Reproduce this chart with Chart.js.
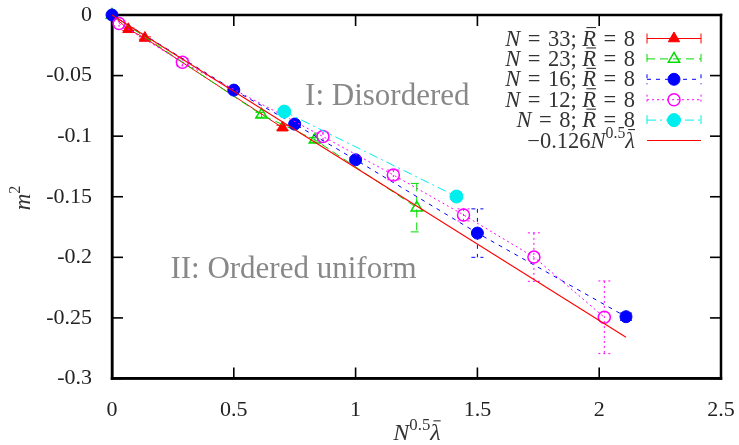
<!DOCTYPE html>
<html><head><meta charset="utf-8">
<script src="https://cdn.jsdelivr.net/npm/chart.js@4.4.1/dist/chart.umd.min.js"></script>
<style>html,body{margin:0;padding:0;background:#fff;overflow:hidden}</style>
</head><body>
<canvas id="c" width="739" height="445"></canvas>
<script>
// ---- data ----
const xTickLabels = ['0','0.5','1','1.5','2','2.5'];
const yTickLabels = ['0','-0.05','-0.1','-0.15','-0.2','-0.25','-0.3'];
const seriesN = [33, 23, 16, 12, 8];
const rBar = 8;

const n33X = [0, 0.067, 0.135, 0.70];
const n33Y = [0, -0.0118, -0.019, -0.093];
const n33Err = [0, 0.001, 0.001, 0.002];

const n23X = [0, 0.614, 0.833, 1.251];
const n23Y = [0, -0.0824, -0.103, -0.159];
const n23Err = [0, 0.002, 0.002, 0.02];

const n16X = [0, 0.5, 0.75, 1.0, 1.5, 2.11];
const n16Y = [0, -0.062, -0.090, -0.1195, -0.18, -0.249];
const n16Err = [0, 0.001, 0.001, 0.002, 0.02, 0.003];

const n12X = [0.029, 0.289, 0.866, 1.155, 1.443, 1.732, 2.021];
const n12Y = [-0.007, -0.039, -0.1003, -0.132, -0.165, -0.1998, -0.2495];
const n12Err = [0.002, 0.003, 0.003, 0.004, 0.005, 0.02, 0.03];

const n8X = [0.707, 1.414];
const n8Y = [-0.0797, -0.1498];
const n8Err = [0.002, 0.002];

const fitX = [0, 2.11];
const fitY = [0, -0.266];
const fitCoef = '\u22120.126';

const regionLabels = ['I: Disordered', 'II: Ordered uniform'];

// ---- helpers ----
const FONT = "'Liberation Serif','Times New Roman',serif";
const SP = '\u2004';
function pts(xs, ys){ return xs.map((x,i)=>({x:x, y:ys[i]})); }
function fontFor(p, size){
  const s = p[1] || '';
  const sz = s.includes('s') ? size*0.7 : size;
  return (s.includes('i') ? 'italic ' : '') + sz + 'px ' + FONT;
}
function richWidth(ctx, parts, size){
  let w = 0;
  for (const p of parts){ ctx.font = fontFor(p,size); w += ctx.measureText(p[0]).width; }
  return w;
}
function drawRich(ctx, parts, x, y, size, align, color){
  const w = richWidth(ctx, parts, size);
  let cx = align==='right' ? x-w : (align==='center' ? x-w/2 : x);
  ctx.fillStyle = color; ctx.strokeStyle = color;
  ctx.textBaseline = 'alphabetic'; ctx.textAlign = 'left';
  for (const p of parts){
    ctx.font = fontFor(p,size);
    const tw = ctx.measureText(p[0]).width;
    const s = p[1] || '';
    const yy = s.includes('s') ? y - size*0.42 : y;
    ctx.fillText(p[0], cx, yy);
    if (s.includes('b')){
      const by = yy - size*0.8;
      ctx.fillRect(cx + tw*0.3, by - 0.5, tw*0.7, 1.1);
    }
    cx += tw;
  }
}

const styles = [
  {color:'#ff0000', dash:[],          point:'triangle', fill:true,  r:6.5},
  {color:'#00dd00', dash:[8,5],       point:'triangle', fill:false, r:6.5},
  {color:'#0000ff', dash:[4,5],       point:'circle',   fill:true,  r:6},
  {color:'#ff00ff', dash:[2,3],       point:'circle',   fill:false, r:6},
  {color:'#00eeee', dash:[9,4,2,4],   point:'circle',   fill:true,  r:6.5},
];
const xs = [n33X, n23X, n16X, n12X, n8X];
const ys = [n33Y, n23Y, n16Y, n12Y, n8Y];
const errs = [n33Err, n23Err, n16Err, n12Err, n8Err];

const datasets = styles.map((st,i)=>({
  label: 'N = ' + seriesN[i] + '; R = ' + rBar,
  data: pts(xs[i], ys[i]),
  errors: errs[i],
  showLine: true,
  borderColor: st.color,
  borderWidth: 1,
  borderDash: st.dash,
  pointStyle: st.point,
  pointRadius: st.r,
  pointBorderColor: st.color,
  pointBackgroundColor: st.fill ? st.color : 'rgba(0,0,0,0)',
  pointBorderWidth: st.fill ? 1 : 1.5,
  pointHoverRadius: st.r,
  clip: false,
  order: 5 - i
}));
datasets.push({
  label: 'fit',
  data: pts(fitX, fitY),
  showLine: true,
  borderColor: '#ff0000',
  borderWidth: 1.1,
  pointRadius: 0,
  clip: false,
  order: 0
});

// frame and inward ticks, drawn with filled rectangles
function drawFrame(chart){
  const ctx = chart.ctx, a = chart.chartArea;
  const sx = chart.scales.x, sy = chart.scales.y;
  ctx.save();
  ctx.globalAlpha = 1;
  ctx.globalCompositeOperation = 'source-over';
  ctx.fillStyle = '#000000';
  const L = 11, tw = 1.6, fw = 2.5;
  for (const t of xTickLabels){
    const px = sx.getPixelForValue(Number(t));
    ctx.fillRect(px - tw/2, a.bottom - L, tw, L);
    ctx.fillRect(px - tw/2, a.top, tw, L);
  }
  for (const t of yTickLabels){
    const py = sy.getPixelForValue(Number(t));
    ctx.fillRect(a.left, py - tw/2, L, tw);
    ctx.fillRect(a.right - L, py - tw/2, L, tw);
  }
  ctx.fillRect(a.left - fw/2, a.top - fw/2, a.right - a.left + fw, fw);
  ctx.fillRect(a.left - fw/2, a.bottom - fw/2, a.right - a.left + fw, fw);
  ctx.fillRect(a.left - fw/2, a.top - fw/2, fw, a.bottom - a.top + fw);
  ctx.fillRect(a.right - fw/2, a.top - fw/2, fw, a.bottom - a.top + fw);
  ctx.restore();
}

function drawErrors(chart){
  const ctx = chart.ctx, sx = chart.scales.x, sy = chart.scales.y;
  ctx.save();
  chart.data.datasets.forEach((ds)=>{
    if (!ds.errors) return;
    ctx.strokeStyle = ds.borderColor; ctx.lineWidth = 1;
    ctx.setLineDash(ds.borderDash || []);
    ds.data.forEach((p, k)=>{
      const e = ds.errors[k];
      if (!e) return;
      const px = sx.getPixelForValue(p.x);
      const y1 = sy.getPixelForValue(p.y + e), y2 = sy.getPixelForValue(p.y - e);
      ctx.beginPath();
      ctx.moveTo(px, y1); ctx.lineTo(px, y2);
      ctx.moveTo(px-6, y1); ctx.lineTo(px+6, y1);
      ctx.moveTo(px-6, y2); ctx.lineTo(px+6, y2);
      ctx.stroke();
    });
  });
  ctx.restore();
}

const framePlugin = {
  id: 'myFrame',
  beforeDatasetsDraw(chart){
    const ctx = chart.ctx, sx = chart.scales.x, sy = chart.scales.y;
    ctx.save();
    ctx.font = '31px ' + FONT; ctx.fillStyle = '#888888';
    ctx.textAlign = 'center'; ctx.textBaseline = 'middle';
    ctx.fillText(regionLabels[0], sx.getPixelForValue(1.13), sy.getPixelForValue(-0.0675));
    ctx.fillText(regionLabels[1], sx.getPixelForValue(0.745), sy.getPixelForValue(-0.2105));
    ctx.restore();
    drawFrame(chart);
    drawErrors(chart);
  },
  afterDraw(chart){
    const ctx = chart.ctx;
    ctx.save();
    const textRight = 635, x1 = 647, x2 = 701, xm = 674;
    const rowY0 = 38.5, rowStep = 20.4, fs = 22.5;
    styles.forEach((st, i)=>{
      const yc = rowY0 + i*rowStep;
      drawRich(ctx, [['N','i'],[SP + '=' + SP + seriesN[i] + '; ',''],['R','ib'],[SP + '=' + SP + rBar,'']], textRight, yc + 7, fs, 'right', '#333');
      ctx.strokeStyle = st.color; ctx.lineWidth = 1; ctx.setLineDash(st.dash);
      ctx.beginPath();
      ctx.moveTo(x1, yc); ctx.lineTo(x2, yc);
      ctx.moveTo(x1, yc-5); ctx.lineTo(x1, yc+5);
      ctx.moveTo(x2, yc-5); ctx.lineTo(x2, yc+5);
      ctx.stroke();
      ctx.setLineDash([]);
      ctx.fillStyle = st.fill ? st.color : '#ffffff';
      ctx.strokeStyle = st.color; ctx.lineWidth = st.fill?1:1.5;
      ctx.beginPath();
      if (st.point === 'circle'){ ctx.arc(xm, yc, st.r, 0, Math.PI*2); }
      else {
        let rad = 0;
        ctx.moveTo(xm + Math.sin(rad)*st.r, yc - Math.cos(rad)*st.r); rad += 2*Math.PI/3;
        ctx.lineTo(xm + Math.sin(rad)*st.r, yc - Math.cos(rad)*st.r); rad += 2*Math.PI/3;
        ctx.lineTo(xm + Math.sin(rad)*st.r, yc - Math.cos(rad)*st.r); ctx.closePath();
      }
      if (st.fill) ctx.fill();
      ctx.stroke();
    });
    const yf = rowY0 + 5*rowStep;
    drawRich(ctx, [[fitCoef,''],['N','i'],['0.5','s'],['\u03bb','ib']], textRight, yf + 7, fs, 'right', '#333');
    ctx.strokeStyle = '#ff0000'; ctx.lineWidth = 1.1; ctx.setLineDash([]);
    ctx.beginPath(); ctx.moveTo(x1, yf); ctx.lineTo(x2, yf); ctx.stroke();
    drawRich(ctx, [['N','i'],['0.5','s'],['\u03bb','ib']], 417, 440, 24, 'center', '#333');
    ctx.save();
    ctx.translate(24, 198); ctx.rotate(-Math.PI/2);
    drawRich(ctx, [['m','i'],['2','s']], 0, 6, 23, 'center', '#333');
    ctx.restore();
    ctx.restore();
  }
};

new Chart(document.getElementById('c'), {
  type: 'scatter',
  data: { datasets: datasets },
  options: {
    responsive: false,
    animation: false,
    devicePixelRatio: 1,
    layout: { autoPadding: false, padding: 0 },
    plugins: { legend: { display: false }, tooltip: { enabled: false } },
    scales: {
      x: {
        type: 'linear', min: 0, max: 2.5,
        grid: { display: false },
        border: { display: true, color: '#000000', width: 2.5 },
        afterFit: s => { s.height = 66.5; s.paddingLeft = 0; s.paddingRight = 18; },
        afterBuildTicks: s => { s.ticks = xTickLabels.map(t => ({ value: Number(t) })); },
        ticks: {
          padding: 11, color: '#222', font: { family: FONT, size: 22 },
          callback: (v, i) => xTickLabels[i]
        }
      },
      y: {
        type: 'linear', min: -0.3, max: 0,
        grid: { display: false },
        border: { display: true, color: '#000000', width: 2.5 },
        afterFit: s => { s.width = 112; s.paddingTop = 15; s.paddingBottom = 0; },
        afterBuildTicks: s => { s.ticks = yTickLabels.slice().reverse().map(t => ({ value: Number(t) })); },
        ticks: {
          padding: 12, color: '#222', font: { family: FONT, size: 22 },
          callback: (v) => yTickLabels.find(t => Math.abs(Number(t) - v) < 1e-9)
        }
      }
    }
  },
  plugins: [framePlugin]
});
</script>
</body></html>
